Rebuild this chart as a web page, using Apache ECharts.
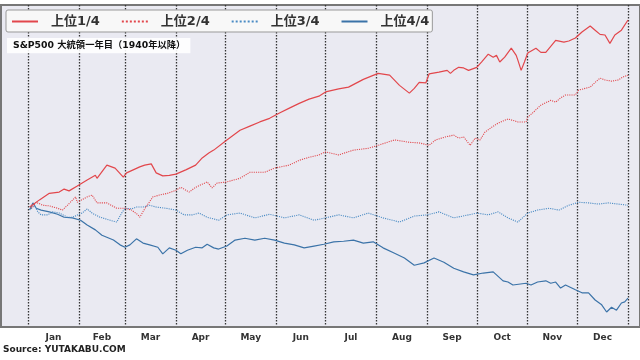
<!DOCTYPE html>
<html><head><meta charset="utf-8">
<script src="https://cdn.jsdelivr.net/npm/echarts@6/dist/echarts.min.js"></script>
<style>html,body{margin:0;padding:0;background:#fff}#c{width:640px;height:360px}</style>
</head><body><div id="c"></div>
<script>
// day-of-year vs cumulative change (relative units)
const seriesNames = ['上位1/4', '上位2/4', '上位3/4', '上位4/4'];
const monthNames = ['Jan','Feb','Mar','Apr','May','Jun','Jul','Aug','Sep','Oct','Nov','Dec'];
const monthStarts = [0,31,59,90,120,151,181,212,243,273,304,334,365];
const monthMids = [15.5,45,74.5,105,135.5,166,196.5,227.5,258,288.5,319,349.5];

const q1 = [[1,0],[7,1.2],[13,2.3],[19,2.5],[22,3.0],[25,2.7],[30,3.5],[36,4.5],[41,5.3],[42,4.8],[48,7.0],[53,6.5],[58,5.0],[60,5.7],[64,6.2],[68,6.7],[71,7.0],[75,7.2],[78,5.7],[82,5.2],[86,5.3],[90,5.5],[96,6.2],[102,7.0],[106,8.2],[110,9.0],[113,9.5],[121,11.2],[129,12.8],[135,13.5],[141,14.2],[147,14.8],[153,15.7],[159,16.5],[165,17.3],[171,18.0],[177,18.5],[181,19.2],[189,19.7],[195,20.0],[204,21.3],[213,22.3],[220,22.0],[226,20.3],[232,19.0],[235,19.8],[238,20.8],[242,20.7],[244,22.2],[250,22.5],[255,22.8],[257,22.3],[259,22.8],[262,23.3],[265,23.2],[268,22.8],[273,23.3],[276,24.2],[280,25.5],[283,25.0],[285,25.3],[287,24.2],[290,25.0],[294,26.5],[297,25.3],[298,24.5],[300,22.8],[302,24.2],[303,24.0],[304,25.7],[309,26.5],[312,25.8],[315,25.8],[321,27.8],[326,27.5],[329,27.7],[333,28.2],[337,29.2],[342,30.2],[345,29.5],[348,28.8],[351,28.7],[354,27.3],[357,28.7],[361,29.5],[365,31.2]];

const q2 = [[2,-0.2],[5,0.8],[9,0.3],[13,0.2],[18,-0.2],[21,-0.5],[24,0.3],[29,1.7],[30,0.8],[36,1.7],[39,2.0],[42,0.7],[48,0.7],[54,-0.2],[59,-0.2],[63,-0.5],[67,-1.3],[68,-1.7],[71,-0.3],[76,1.7],[80,2.0],[85,2.3],[90,2.8],[93,3.3],[98,2.5],[102,3.3],[109,4.2],[112,3.2],[115,4.0],[121,4.2],[129,4.8],[135,5.8],[144,5.8],[150,6.5],[159,7.0],[165,7.8],[171,8.3],[177,8.7],[181,9.2],[189,8.7],[198,9.5],[207,9.8],[213,10.3],[223,11.2],[232,10.8],[238,10.7],[244,10.3],[248,11.2],[254,11.7],[259,12.0],[262,11.5],[265,11.7],[269,10.3],[272,11.5],[275,11.2],[278,12.5],[282,13.3],[286,14.0],[292,14.7],[298,14.2],[303,14.2],[304,15.0],[307,15.7],[312,17.0],[318,17.8],[321,17.5],[324,18.2],[327,18.7],[333,18.7],[335,19.5],[339,19.8],[342,20.0],[345,20.8],[348,21.5],[351,21.2],[355,21.0],[359,21.2],[362,21.7],[365,22.0]];

const q3 = [[2,-0.3],[4,0.3],[6,-0.8],[8,-1.3],[12,-1.3],[15,-0.8],[19,-1.0],[24,-1.7],[27,-1.7],[33,-1.0],[36,-0.3],[39,-1.0],[44,-1.7],[50,-2.2],[54,-2.5],[57,-1.0],[59,-0.2],[63,-0.3],[66,0],[70,0],[74,0.3],[78,0],[84,-0.2],[90,-0.5],[95,-1.3],[100,-1.3],[104,-1.0],[109,-1.7],[116,-2.2],[121,-1.3],[129,-1.0],[138,-1.8],[147,-1.2],[156,-1.8],[165,-1.3],[174,-2.2],[181,-1.8],[189,-1.3],[198,-1.8],[207,-1.0],[216,-1.8],[226,-2.5],[235,-1.5],[243,-1.3],[250,-0.8],[259,-1.8],[268,-1.3],[273,-1.0],[280,-1.3],[286,-0.8],[292,-1.8],[298,-2.5],[304,-1.0],[310,-0.5],[317,-0.2],[323,-0.5],[329,0.3],[335,0.8],[341,0.7],[347,0.5],[353,0.7],[359,0.5],[365,0.3]];

const q4 = [[1,-0.5],[3,0.7],[5,-0.2],[8,-0.5],[13,-0.8],[18,-1.2],[22,-1.7],[27,-1.8],[32,-2.2],[36,-3.0],[41,-3.8],[45,-4.7],[52,-5.5],[56,-6.3],[59,-6.7],[62,-6.3],[66,-5.3],[70,-6.0],[74,-6.3],[79,-6.7],[82,-7.8],[86,-6.8],[90,-7.2],[93,-7.8],[97,-7.2],[102,-6.7],[106,-6.8],[109,-6.2],[113,-6.8],[116,-7.0],[121,-6.5],[126,-5.5],[132,-5.2],[138,-5.5],[144,-5.2],[150,-5.5],[156,-6.0],[162,-6.3],[168,-6.8],[174,-6.5],[180,-6.2],[186,-5.8],[192,-5.7],[198,-5.5],[204,-6.0],[210,-5.8],[216,-6.8],[223,-7.7],[229,-8.5],[235,-9.7],[241,-9.3],[247,-8.5],[253,-9.2],[259,-10.2],[265,-10.8],[271,-11.3],[277,-11.0],[283,-10.8],[289,-12.3],[292,-12.5],[295,-13.0],[303,-12.7],[306,-13.0],[310,-12.5],[315,-12.3],[318,-12.7],[321,-12.5],[324,-13.5],[327,-13.0],[333,-13.8],[337,-14.3],[341,-14.3],[345,-15.5],[349,-16.3],[352,-17.5],[355,-16.7],[358,-17.2],[361,-16.0],[363,-15.8],[365,-15.2]];

const colors = ['#e2474c', '#e2474c', '#4a8bc4', '#3b73a8'];
const lineTypes = ['solid', 'dotted', 'dotted', 'solid'];
const allData = [q1, q2, q3, q4];

const FONT = 'DejaVu Sans, "Noto Sans CJK JP", sans-serif';
const chart = echarts.init(document.getElementById('c'), null, {renderer: 'canvas'});
chart.setOption({
  animation: false,
  backgroundColor: '#ffffff',
  title: [
    {text: 'S&P500 大統領一年目（1940年以降）', left: 7, top: 38,
     backgroundColor: 'rgba(255,255,255,0.9)', padding: [3, 5, 3, 6],
     textStyle: {fontFamily: FONT, fontSize: 9.3, fontWeight: 'bold', color: '#111'}},
    {text: 'Source: YUTAKABU.COM', left: 3, top: 345, padding: 0,
     textStyle: {fontFamily: FONT, fontSize: 9, fontWeight: 'bold', color: '#222'}}
  ],
  legend: {
    data: seriesNames, left: 6, top: 10, orient: 'horizontal',
    itemWidth: 26, itemHeight: 10, itemGap: 21,
    padding: [5, 3, 4, 5],
    itemStyle: {opacity: 0},
    backgroundColor: '#f8f8f8', borderColor: '#999', borderWidth: 1, borderRadius: 2,
    textStyle: {fontFamily: FONT, fontSize: 13, fontWeight: 'bold', color: '#333', padding: [0, 0, 0, 8]}
  },
  grid: {left: 1, right: -2, top: 5, bottom: 33, show: true,
         backgroundColor: '#eaeaf2', borderColor: '#777', borderWidth: 2},
  xAxis: {
    type: 'value', min: -16.4, max: 372.3,
    axisLine: {show: true, onZero: false, lineStyle: {color: '#777', width: 2}},
    axisTick: {show: false, customValues: monthStarts},
    splitLine: {show: true, lineStyle: {color: '#333', type: [1.5, 1.5], width: 1.3}},
    axisLabel: {customValues: monthMids, margin: 6,
      fontFamily: FONT, fontSize: 9, fontWeight: 'bold', color: '#333',
      formatter: function (v) { return monthNames[monthMids.indexOf(v)] || ''; }}
  },
  yAxis: {
    type: 'value', min: -20, max: 33.7,
    axisLine: {show: false}, axisTick: {show: false}, axisLabel: {show: false}, splitLine: {show: false}
  },
  series: seriesNames.map(function (n, i) {
    return {
      name: n, type: 'line', data: allData[i], showSymbol: false, symbol: 'none',
      lineStyle: {color: colors[i], width: lineTypes[i] === 'solid' ? 1.2 : 1.1, type: lineTypes[i]},
      itemStyle: {color: colors[i]}, z: 4 - i
    };
  })
});
</script></body></html>
